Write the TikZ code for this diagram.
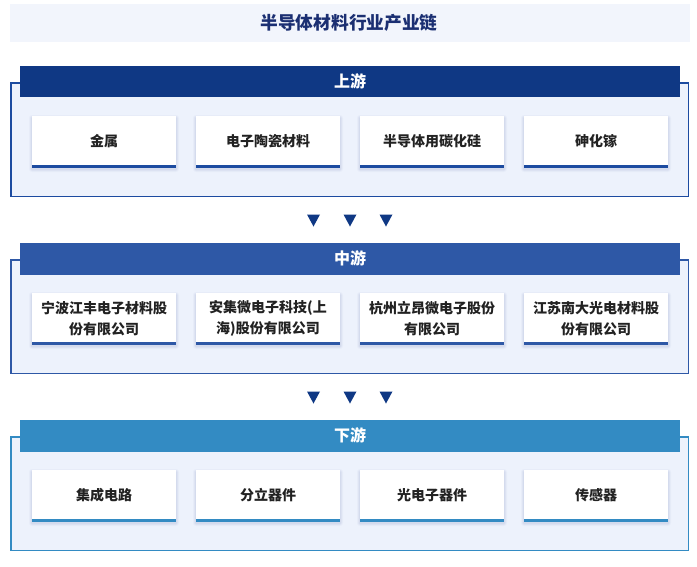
\documentclass[tikz,border=0pt]{standalone}
\usepackage{fontspec}
\setmainfont{Noto Sans CJK SC}
\definecolor{titlebg}{HTML}{F2F5FC}
\definecolor{titlefg}{HTML}{1B2F72}
\definecolor{upc}{HTML}{0F3884}
\definecolor{upb}{HTML}{1C4BA0}
\definecolor{midc}{HTML}{2E58A6}
\definecolor{lowc}{HTML}{338BC3}
\definecolor{framebg}{HTML}{EDF2FC}
\definecolor{boxtxt}{HTML}{222222}
\definecolor{shadowc}{HTML}{8C9CC8}
\tikzset{
  x=1pt, y=-1pt,
  framebox/.style={draw=#1, line width=1.5pt, fill=framebg},
  headbar/.style={fill=#1, draw=none},
  headtxt/.style={text=white, font=\bfseries\fontsize{16}{18}\selectfont},
  itemtxt/.style={text=boxtxt, font=\bfseries\fontsize{14}{21.5}\selectfont, align=center, text width=138pt},
  tri/.style={fill=upc, draw=none}
}
\newcommand{\itembox}[5]{% name, x-left, y-top, color, text
  \foreach \s/\o in {3/0.06,2/0.09,1/0.12}{
    \fill[shadowc, opacity=\o, rounded corners=\s pt] (#2-\s,#3-\s+2) rectangle (#2+144+\s,#3+51+\s+2);
  }
  \fill[white] (#2,#3) rectangle (#2+144,#3+51);
  \fill[#4] (#2,#3+48.5) rectangle (#2+144,#3+51.5);
  \node[itemtxt] (#1) at (#2+72,#3+25.5) {#5};
}
\newcommand{\arrowrow}[1]{% y top
  \foreach \cx in {313.5,350,386}{
    \fill[tri] (\cx-6.5,#1) -- (\cx+6.5,#1) -- (\cx,#1+12) -- cycle;
  }
}
\begin{document}
\begin{tikzpicture}
\useasboundingbox (0,0) rectangle (697,566);
\fill[white] (0,0) rectangle (697,566);
% title
\fill[titlebg] (10,4) rectangle (690,42);
\node[text=titlefg, font=\bfseries\fontsize{17.7}{20}\selectfont] (title) at (349,23) {半导体材料行业产业链};
% upstream
\draw[framebox=upb] (10.75,82.75) rectangle (688.5,196.5);
\fill[headbar=upc] (20,66) rectangle (680,97);
\node[headtxt] (up) at (350,81.5) {上游};
\itembox{u1}{32}{116}{upb}{金属}
\itembox{u2}{196}{116}{upb}{电子陶瓷材料}
\itembox{u3}{360}{116}{upb}{半导体用碳化硅}
\itembox{u4}{524}{116}{upb}{砷化镓}
\arrowrow{214.5}
% midstream
\draw[framebox=midc] (10.75,259.75) rectangle (688.5,373.5);
\fill[headbar=midc] (20,243) rectangle (680,275);
\node[headtxt] (mid) at (350,258.5) {中游};
\itembox{m1}{32}{293}{midc}{宁波江丰电子材料股\\份有限公司}
\itembox{m2}{196}{293}{midc}{安集微电子科技(上\\海)股份有限公司}
\itembox{m3}{360}{293}{midc}{杭州立昂微电子股份\\有限公司}
\itembox{m4}{524}{293}{midc}{江苏南大光电材料股\\份有限公司}
\arrowrow{391.5}
% downstream
\draw[framebox=lowc] (10.75,436.75) rectangle (688.5,550.5);
\fill[headbar=lowc] (20,420) rectangle (680,452);
\node[headtxt] (low) at (350,435.5) {下游};
\itembox{d1}{32}{470}{lowc}{集成电路}
\itembox{d2}{196}{470}{lowc}{分立器件}
\itembox{d3}{360}{470}{lowc}{光电子器件}
\itembox{d4}{524}{470}{lowc}{传感器}
\end{tikzpicture}
\end{document}
